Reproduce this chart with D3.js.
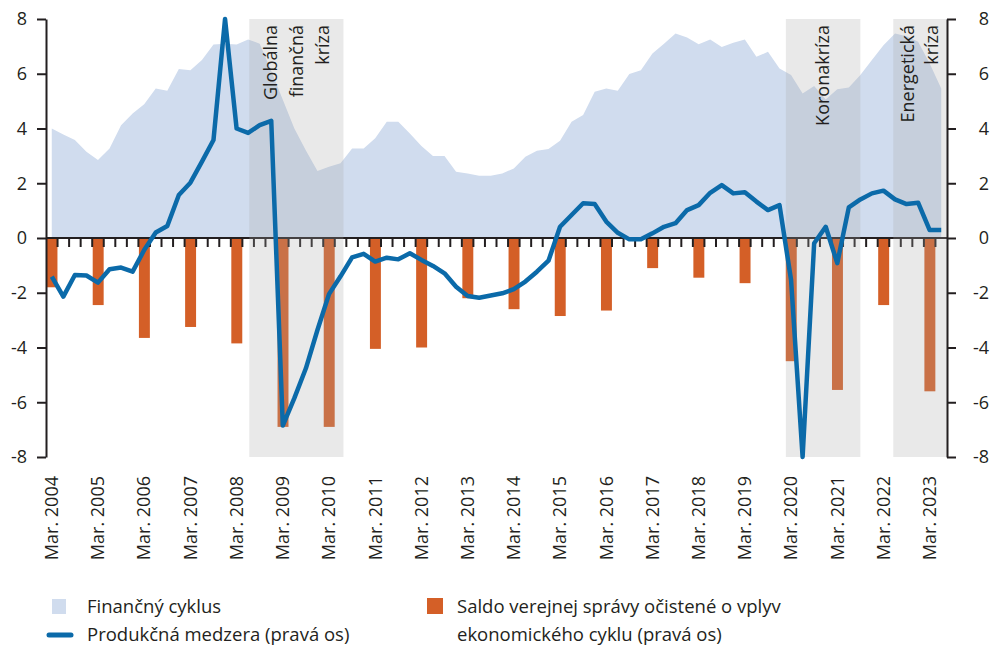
<!DOCTYPE html>
<html>
<head>
<meta charset="utf-8">
<script src="https://cdn.jsdelivr.net/npm/d3@7"></script>
<style>
	body { margin: 0; background: #fff; }
	svg { display: block; font-family: "Open Sans", sans-serif; }
</style>
</head>
<body>
<div id="chart"></div>
<script>
// quarters 2004Q1 .. 2023Q2
const years = d3.range(2004, 2024);
const quarters = years.flatMap(y => ["Q1", "Q2", "Q3", "Q4"].map(q => y + q)).slice(0, 78);

const yearLabels = ["Mar. 2004", "Mar. 2005", "Mar. 2006", "Mar. 2007", "Mar. 2008", "Mar. 2009", "Mar. 2010",
	"Mar. 2011", "Mar. 2012", "Mar. 2013", "Mar. 2014", "Mar. 2015", "Mar. 2016", "Mar. 2017", "Mar. 2018",
	"Mar. 2019", "Mar. 2020", "Mar. 2021", "Mar. 2022", "Mar. 2023"];

// Finančný cyklus (area, left axis)
const financialCycle = [4.0, 3.78, 3.58, 3.15, 2.85, 3.27, 4.12, 4.55, 4.89, 5.46, 5.38, 6.17, 6.13, 6.5, 7.07, 7.1,
	7.07, 7.25, 7.1, 6.1, 5.05, 4.0, 3.2, 2.45, 2.6, 2.73, 3.27, 3.27, 3.64, 4.25, 4.25, 3.82,
	3.36, 3.0, 3.0, 2.42, 2.36, 2.27, 2.27, 2.36, 2.54, 2.97, 3.19, 3.25, 3.55, 4.25, 4.49, 5.34,
	5.46, 5.38, 5.99, 6.13, 6.74, 7.1, 7.47, 7.32, 7.08, 7.25, 6.98, 7.13, 7.25, 6.62, 6.8, 6.19,
	5.95, 5.28, 5.55, 5.06, 5.43, 5.5, 5.95, 6.5, 7.04, 7.47, 7.37, 7.17, 6.37, 5.46];

// Produkčná medzera (line, right axis)
const outputGap = [-1.41, -2.14, -1.35, -1.37, -1.63, -1.14, -1.08, -1.23, -0.44, 0.2, 0.44, 1.57, 2.02, 2.79, 3.58, 8.0,
	4.0, 3.84, 4.12, 4.28, -6.85, -5.85, -4.76, -3.36, -2.05, -1.4, -0.71, -0.58, -0.86, -0.72, -0.78, -0.56,
	-0.8, -1.02, -1.29, -1.78, -2.12, -2.18, -2.1, -2.02, -1.87, -1.59, -1.23, -0.83, 0.41, 0.84, 1.27, 1.24,
	0.6, 0.19, -0.05, -0.05, 0.17, 0.41, 0.54, 1.02, 1.2, 1.65, 1.93, 1.63, 1.67, 1.33, 1.02, 1.2,
	-1.53, -8.0, -0.19, 0.41, -0.92, 1.12, 1.41, 1.63, 1.73, 1.41, 1.24, 1.29, 0.29, 0.29];

// Saldo verejnej správy očistené o vplyv ekonomického cyklu (bars, Q1 of each year)
const structuralBalance = [-1.8, -2.45, -3.65, -3.25, -3.85, -6.9, -6.9, -4.05, -4.0, -2.2,
	-2.6, -2.85, -2.65, -1.1, -1.45, -1.65, -4.5, -5.55, -2.45, -5.6];

// crisis periods, in quarters counted from 2004Q1
const crises = [
	{lines: ["Globálna", "finančná", "kríza"], start: 17.6, end: 25.75},
	{lines: ["Koronakríza"], start: 64.05, end: 70.5},
	{lines: ["Energetická", "kríza"], start: 73.35, end: 78}
];

const yTicks = [-8, -6, -4, -2, 0, 2, 4, 6, 8];

const colors = {area: "#d0dcee", bar: "#d45f27", line: "#0b6aa9", shade: "#a9a9a9", ink: "#231f20"};

const margin = {top: 19, right: 44, bottom: 189, left: 46};
const width = 991 - margin.left - margin.right;
const height = 646 - margin.top - margin.bottom;

const root = d3.select("#chart").append("svg")
	.attr("width", 991)
	.attr("height", 646);

const svg = root.append("g")
	.attr("transform", `translate(${margin.left},${margin.top})`);

// scales
const x = d3.scaleBand().domain(quarters).range([0, width]).padding(0);
const xq = d3.scaleLinear().domain([0, quarters.length]).range([0, width]);
const y = d3.scaleLinear().domain([-8, 8]).range([height, 0]);
const cx = (d, i) => x(quarters[i]) + x.bandwidth() / 2;

// area
svg.append("path")
	.datum(financialCycle)
	.attr("fill", colors.area)
	.attr("d", d3.area().x(cx).y0(y(0)).y1(d => y(d)));

// bars
svg.selectAll(".bar")
	.data(structuralBalance)
	.enter().append("rect")
	.attr("class", "bar")
	.attr("x", (d, i) => x(years[i] + "Q1") + 0.5)
	.attr("width", x.bandwidth() - 0.6)
	.attr("y", y(0))
	.attr("height", d => y(d) - y(0))
	.attr("fill", colors.bar);

// zero axis with quarter ticks
svg.append("line")
	.attr("x1", 0).attr("x2", width)
	.attr("y1", y(0)).attr("y2", y(0))
	.attr("stroke", colors.ink).attr("stroke-width", 2);

svg.selectAll(".qtick")
	.data(d3.range(1, quarters.length))
	.enter().append("line")
	.attr("class", "qtick")
	.attr("x1", d => xq(d)).attr("x2", d => xq(d))
	.attr("y1", y(0)).attr("y2", y(0) + 9)
	.attr("stroke", colors.ink).attr("stroke-width", 2);

// crisis shading (on top of area and bars)
svg.selectAll(".crisis")
	.data(crises)
	.enter().append("rect")
	.attr("class", "crisis")
	.attr("x", d => xq(d.start))
	.attr("width", d => xq(d.end) - xq(d.start))
	.attr("y", 0)
	.attr("height", height)
	.attr("fill", colors.shade)
	.attr("fill-opacity", 0.25);

// line
svg.append("path")
	.datum(outputGap)
	.attr("fill", "none")
	.attr("stroke", colors.line)
	.attr("stroke-width", 4.5)
	.attr("stroke-linejoin", "round")
	.attr("d", d3.line().x(cx).y(d => y(d)));

// crisis labels
crises.forEach(c => {
	const mid = (xq(c.start) + xq(c.end)) / 2;
	const gap = c.lines.length > 2 ? 26 : 24;
	c.lines.forEach((t, k) => {
		svg.append("text")
			.attr("transform", `translate(${mid + (k - (c.lines.length - 1) / 2) * gap},6) rotate(-90)`)
			.attr("text-anchor", "end")
			.attr("dy", "0.35em")
			.attr("fill", colors.ink)
			.style("font-size", "18px")
			.text(t);
	});
});

// y axes
const leftAxis = d3.axisLeft(y).tickValues(yTicks).tickSize(9).tickSizeOuter(0).tickPadding(10).tickFormat(d => d);
const rightAxis = d3.axisRight(y).tickValues(yTicks).tickSize(9).tickSizeOuter(0).tickFormat(d => d);

const gl = svg.append("g").call(leftAxis);
const gr = svg.append("g").attr("transform", `translate(${width},0)`).call(rightAxis);
gr.selectAll("text").attr("text-anchor", "end").attr("x", 42);

[gl, gr].forEach(g => {
	g.selectAll("path, line").attr("stroke", colors.ink).attr("stroke-width", 2);
	g.selectAll("text").attr("fill", colors.ink).style("font-size", "18px").style("font-family", "Open Sans");
});

// x labels (March of each year)
svg.selectAll(".xlabel")
	.data(yearLabels)
	.enter().append("text")
	.attr("class", "xlabel")
	.attr("transform", (d, i) => `translate(${x(years[i] + "Q1") + x.bandwidth() / 2},${height + 19}) rotate(-90)`)
	.attr("text-anchor", "end")
	.attr("dy", "0.35em")
	.attr("fill", colors.ink)
	.style("font-size", "18px")
	.text(d => d);

// legend
const legend = root.append("g").style("font-size", "18.5px").attr("fill", colors.ink);

legend.append("rect").attr("x", 52).attr("y", 599).attr("width", 14).attr("height", 15).attr("fill", colors.area);
legend.append("text").attr("x", 87).attr("y", 607).attr("dy", "0.35em").text("Finančný cyklus");

legend.append("line").attr("x1", 49).attr("x2", 71).attr("y1", 635).attr("y2", 635)
	.attr("stroke", colors.line).attr("stroke-width", 5).attr("stroke-linecap", "round");
legend.append("text").attr("x", 87).attr("y", 635).attr("dy", "0.35em").text("Produkčná medzera (pravá os)");

legend.append("rect").attr("x", 427).attr("y", 598).attr("width", 16).attr("height", 16).attr("fill", colors.bar);
legend.append("text").attr("x", 457).attr("y", 607).attr("dy", "0.35em").text("Saldo verejnej správy očistené o vplyv");
legend.append("text").attr("x", 457).attr("y", 635).attr("dy", "0.35em").text("ekonomického cyklu (pravá os)");
</script>
</body>
</html>
